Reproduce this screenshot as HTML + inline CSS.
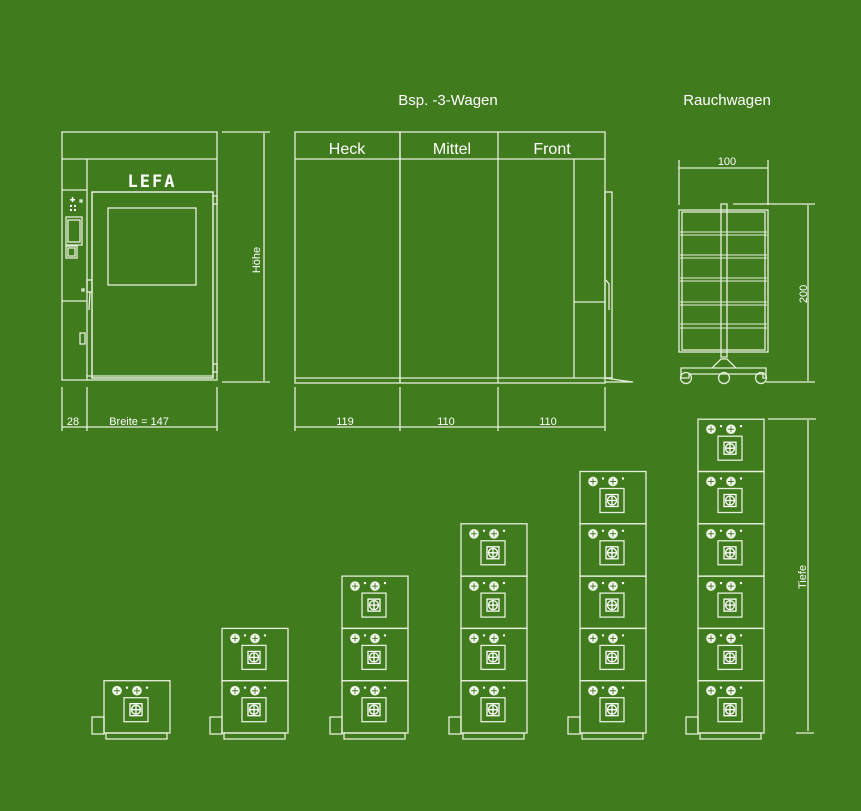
<!DOCTYPE html>
<html><head><meta charset="utf-8"><style>
html,body{margin:0;padding:0;background:#407b1e;}
svg{display:block}
text{font-family:"Liberation Sans",sans-serif;fill:#fff}
</style></head><body>
<svg width="861" height="811" viewBox="0 0 861 811" xmlns="http://www.w3.org/2000/svg">
<defs>
<g id="k"><circle r="4.2" fill="#fff"/><path d="M-3 0H3M0 -3V3" stroke="#407b1e" stroke-width="1"/></g>
<g id="m" fill="none" stroke="#e6efdc" stroke-width="1.3">
<rect x="0" y="0" width="66" height="52.3"/>
<use href="#k" x="13" y="10"/><use href="#k" x="33" y="10"/>
<circle cx="23" cy="7" r="1.2" fill="#fff" stroke="none"/><circle cx="43" cy="7" r="1.2" fill="#fff" stroke="none"/>
<rect x="20" y="17" width="24" height="24"/>
<rect x="26" y="23" width="12" height="12" stroke="#fff"/>
<circle cx="32" cy="29" r="4.5" stroke="#fff"/><path d="M27.5 29H36.5M32 24.5V33.5" stroke="#fff"/>
</g>
</defs>
<g fill="none" stroke="#e6efdc" stroke-width="1.3">
<!-- left view -->
<rect x="62" y="132" width="155" height="248"/>
<line x1="62" y1="159" x2="217" y2="159"/>
<line x1="87" y1="159" x2="87" y2="380"/>
<line x1="62" y1="190" x2="87" y2="190"/>
<line x1="62" y1="301" x2="87" y2="301"/>
<rect x="92" y="192" width="121" height="186" stroke="#fff"/>
<rect x="108" y="208" width="88" height="77"/>
<rect x="66" y="217" width="16" height="28"/><rect x="68" y="220" width="12" height="22"/>
<rect x="66" y="246" width="11" height="12"/><rect x="68" y="248" width="7" height="8"/>
<rect x="80" y="200" width="2" height="2"/>
<rect x="82" y="289" width="2" height="2"/>
<rect x="80" y="333" width="5" height="11"/>
<rect x="87" y="280" width="5" height="12"/>
<line x1="90" y1="292" x2="89" y2="310"/>
<rect x="213" y="196" width="4" height="8"/><rect x="213" y="364" width="4" height="8"/>
<line x1="87" y1="376" x2="213" y2="376"/>
<line x1="222" y1="132" x2="270" y2="132"/><line x1="222" y1="382" x2="270" y2="382"/>
<line x1="264" y1="133" x2="264" y2="381"/>
<line x1="62" y1="387" x2="62" y2="431"/><line x1="87" y1="387" x2="87" y2="431"/><line x1="217" y1="387" x2="217" y2="431"/>
<line x1="62" y1="427" x2="217" y2="427"/>
<!-- middle view -->
<rect x="295" y="132" width="310" height="251"/>
<line x1="295" y1="159" x2="605" y2="159"/>
<line x1="400" y1="132" x2="400" y2="383" stroke="#fff"/>
<line x1="498" y1="132" x2="498" y2="383"/>
<line x1="574" y1="159" x2="574" y2="378"/>
<line x1="574" y1="302" x2="605" y2="302"/>
<line x1="295" y1="378" x2="612" y2="378"/>
<rect x="605" y="192" width="7" height="186"/>
<path d="M605 378 L625 381 L633 382 L605 382"/>
<path d="M606 280 L609 284 L609 310"/>
<line x1="295" y1="387" x2="295" y2="431"/><line x1="400" y1="387" x2="400" y2="431"/><line x1="498" y1="387" x2="498" y2="431"/><line x1="605" y1="387" x2="605" y2="431"/>
<line x1="295" y1="427" x2="605" y2="427"/>
<!-- Rauchwagen -->
<line x1="679" y1="160" x2="679" y2="205"/><line x1="768" y1="160" x2="768" y2="205"/>
<line x1="679" y1="168" x2="768" y2="168"/>
<rect x="679" y="210" width="89" height="142"/>
<rect x="682" y="212" width="83" height="138"/>
<rect x="721" y="204" width="6" height="153"/>
<g stroke-width="1.1">
<line x1="680" y1="232" x2="767" y2="232"/><line x1="680" y1="235" x2="767" y2="235"/>
<line x1="680" y1="255" x2="767" y2="255"/><line x1="680" y1="258" x2="767" y2="258"/>
<line x1="680" y1="278" x2="767" y2="278"/><line x1="680" y1="281" x2="767" y2="281"/>
<line x1="680" y1="302" x2="767" y2="302"/><line x1="680" y1="305" x2="767" y2="305"/>
<line x1="680" y1="324" x2="767" y2="324"/><line x1="680" y1="328" x2="767" y2="328"/>
</g>
<path d="M712 368 L721 359 L727 359 L736 368"/>
<path d="M681 368 H766 V378 H763 V374 H689 V378 H681 Z"/>
<circle cx="686" cy="378" r="5.5"/><circle cx="724" cy="378" r="5.5"/><circle cx="761" cy="378" r="5.5"/>
<line x1="733" y1="204" x2="815" y2="204"/><line x1="766" y1="382" x2="815" y2="382"/>
<line x1="808" y1="205" x2="808" y2="381"/>
<!-- Tiefe -->
<line x1="768" y1="419" x2="816" y2="419"/>
<line x1="808" y1="420" x2="808" y2="731"/>
<line x1="796" y1="733" x2="814" y2="733"/>
<!-- bases -->
<g id="b">
<rect x="106" y="733" width="61" height="6"/>
<rect x="92" y="717" width="12" height="17"/>
</g>
<use href="#b" x="118"/><use href="#b" x="238"/><use href="#b" x="357"/><use href="#b" x="476"/><use href="#b" x="594"/>
</g>
<!-- modules -->
<use href="#m" x="104" y="680.7"/>
<use href="#m" x="222" y="680.7"/><use href="#m" x="222" y="628.4"/>
<use href="#m" x="342" y="680.7"/><use href="#m" x="342" y="628.4"/><use href="#m" x="342" y="576.1"/>
<use href="#m" x="461" y="680.7"/><use href="#m" x="461" y="628.4"/><use href="#m" x="461" y="576.1"/><use href="#m" x="461" y="523.8"/>
<use href="#m" x="580" y="680.7"/><use href="#m" x="580" y="628.4"/><use href="#m" x="580" y="576.1"/><use href="#m" x="580" y="523.8"/><use href="#m" x="580" y="471.5"/>
<use href="#m" x="698" y="680.7"/><use href="#m" x="698" y="628.4"/><use href="#m" x="698" y="576.1"/><use href="#m" x="698" y="523.8"/><use href="#m" x="698" y="471.5"/><use href="#m" x="698" y="419.2"/>
<!-- panel buttons -->
<g fill="#fff"><rect x="70" y="199" width="5" height="1.5"/><rect x="71.8" y="197" width="1.5" height="5"/>
<rect x="70" y="205" width="2" height="2"/><rect x="74" y="205" width="2" height="2"/><rect x="70" y="209" width="2" height="2"/><rect x="74" y="209" width="2" height="2"/></g>
<text x="152" y="187" font-size="17" font-weight="bold" text-anchor="middle" letter-spacing="2" style="font-family:'DejaVu Sans Mono',monospace">LEFA</text>
<text x="448" y="105" font-size="15" text-anchor="middle">Bsp. -3-Wagen</text>
<text x="727" y="105" font-size="15" text-anchor="middle">Rauchwagen</text>
<text x="347" y="154" font-size="16" text-anchor="middle">Heck</text>
<text x="452" y="154" font-size="16" text-anchor="middle">Mittel</text>
<text x="552" y="154" font-size="16" text-anchor="middle">Front</text>
<text x="73" y="425" font-size="11" text-anchor="middle">28</text>
<text x="139" y="425" font-size="11" text-anchor="middle">Breite = 147</text>
<text x="345" y="425" font-size="11" text-anchor="middle">119</text>
<text x="446" y="425" font-size="11" text-anchor="middle">110</text>
<text x="548" y="425" font-size="11" text-anchor="middle">110</text>
<text x="727" y="165" font-size="11" text-anchor="middle">100</text>
<text transform="translate(260,260) rotate(-90)" font-size="11" text-anchor="middle">Höhe</text>
<text transform="translate(807,294) rotate(-90)" font-size="11" text-anchor="middle">200</text>
<text transform="translate(806,577) rotate(-90)" font-size="11" text-anchor="middle">Tiefe</text>
</svg>
</body></html>
